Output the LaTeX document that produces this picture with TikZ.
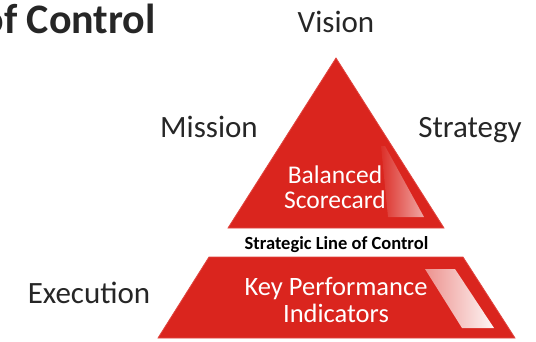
\documentclass[tikz,border=0pt]{standalone}
\usepackage{fontspec}
\setmainfont{Carlito}
\definecolor{pyrred}{RGB}{218,37,30}
\definecolor{labelgray}{RGB}{38,38,38}
\tikzset{
  lbl/.style={text=labelgray,font=\fontsize{31}{36}\selectfont,anchor=base,inner sep=0pt},
  inlbl/.style={text=white,align=center,inner sep=0pt,anchor=base},
  block/.style={fill=pyrred,draw=pyrred!85!white,line width=0.8pt}
}
\begin{document}
\begin{tikzpicture}[x=1pt,y=-1pt]
\useasboundingbox (0,0) rectangle (536,341);
\coordinate (apex) at (336,58);
\coordinate (tbl) at (228,228);
\coordinate (tbr) at (444,228);
\coordinate (ztl) at (209,257);
\coordinate (ztr) at (463,257);
\coordinate (zbr) at (515,338);
\coordinate (zbl) at (158,338);
\draw[block] (apex) -- (tbr) -- (tbl) -- cycle;
\draw[block] (ztl) -- (ztr) -- (zbr) -- (zbl) -- cycle;
\shade[left color=pyrred!95!white,right color=pyrred!40!white]
  (381,146) -- (385,146) -- (424,217) -- (388,217) -- cycle;
\shade[left color=pyrred!50!white,right color=white!96!pyrred]
  (425,269) -- (455,269) -- (494,328) -- (462,328) -- cycle;
\node[lbl] (vision) at (336,32) {Vision};
\node[lbl] (mission) at (209,137) {Mission};
\node[lbl] (strategy) at (470,137) {Strategy};
\node[lbl] (execution) at (89,303) {Execution};
\node[text=labelgray,font=\bfseries\fontsize{42}{48}\selectfont,anchor=base east,inner sep=0pt] (title) at (156,33) {of Control};
\node[inlbl,font=\fontsize{25.5}{25}\selectfont] (bsc) at (335,208) {Balanced\\Scorecard};
\node[inlbl,font=\fontsize{26.5}{27}\selectfont] (kpi) at (336,322) {Key Performance\\Indicators};
\node[text=black,font=\bfseries\fontsize{18.5}{20}\selectfont,anchor=base,inner sep=0pt] (slc) at (336.5,249) {Strategic Line of Control};
\end{tikzpicture}
\end{document}
